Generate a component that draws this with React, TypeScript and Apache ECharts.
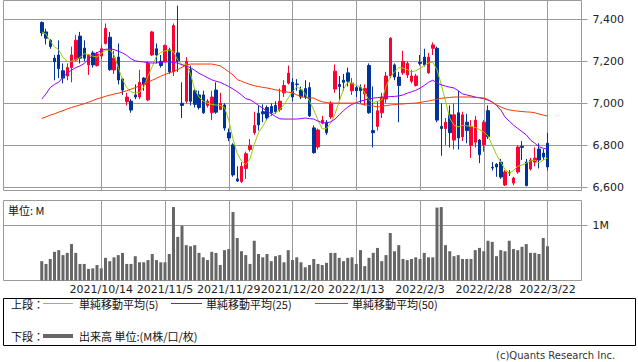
import React, { useEffect, useRef } from 'react';
import * as echarts from 'echarts';

// ---------- data ----------
const MONTH_DAYS: [string, number[]][] = [
  ['2021/9', [24, 27, 28, 29, 30]],
  ['2021/10', [1, 4, 5, 6, 7, 8, 11, 12, 13, 14, 15, 18, 19, 20, 21, 22, 25, 26, 27, 28, 29]],
  ['2021/11', [1, 2, 4, 5, 8, 9, 10, 11, 12, 15, 16, 17, 18, 19, 22, 24, 25, 26, 29, 30]],
  ['2021/12', [1, 2, 3, 6, 7, 8, 9, 10, 13, 14, 15, 16, 17, 20, 21, 22, 23, 24, 27, 28, 29, 30]],
  ['2022/1', [4, 5, 6, 7, 11, 12, 13, 14, 17, 18, 19, 20, 21, 24, 25, 26, 27, 28, 31]],
  ['2022/2', [1, 2, 3, 4, 7, 8, 9, 10, 14, 15, 16, 17, 18, 21, 22, 24, 25, 28]],
  ['2022/3', [1, 2, 3, 4, 7, 8, 9, 10, 11, 14, 15, 16, 17, 18, 22]],
];

const TICK_LABELS = ['2021/10/14', '2021/11/5', '2021/11/29', '2021/12/20', '2022/1/13', '2022/2/3', '2022/2/28', '2022/3/22'];
const PRICE_TICKS = [6600, 6800, 7000, 7200, 7400];
const VOLUME_TICKS = [1];

// [open, close, low, high]
const OHLC: number[][] = [
  [7385, 7335, 7320, 7390], [7340, 7310, 7280, 7355], [7300, 7270, 7260, 7305], [7215, 7198, 7110, 7230], [7230, 7165, 7120, 7300],
  [7155, 7120, 7095, 7190], [7130, 7170, 7110, 7190], [7170, 7230, 7100, 7270], [7206, 7300, 7200, 7325], [7320, 7215, 7190, 7340],
  [7263, 7215, 7200, 7300], [7183, 7230, 7135, 7235], [7240, 7183, 7170, 7250], [7180, 7235, 7175, 7245], [7225, 7260, 7210, 7280],
  [7285, 7357, 7280, 7380], [7315, 7160, 7155, 7340], [7159, 7215, 7140, 7250], [7220, 7111, 7090, 7285], [7116, 7063, 7040, 7120],
  [7008, 7030, 6990, 7050], [7010, 6968, 6955, 7020], [7040, 7030, 7020, 7090], [7030, 7100, 7020, 7160], [7120, 7090, 7060, 7125],
  [7016, 7190, 7010, 7200], [7230, 7340, 7225, 7345], [7260, 7230, 7190, 7285], [7200, 7180, 7170, 7230], [7200, 7275, 7195, 7280],
  [7255, 7150, 7140, 7265], [7150, 7370, 7130, 7380], [7240, 7200, 7150, 7465], [7000, 6990, 6930, 7100], [7010, 7200, 7000, 7220],
  [7160, 7010, 6990, 7180], [7060, 6995, 6980, 7070], [7040, 6980, 6970, 7060], [7040, 6955, 6950, 7060], [6990, 7010, 6980, 7020],
  [6955, 7030, 6920, 7060], [7063, 6958, 6950, 7100], [6970, 7000, 6968, 7050], [6992, 6882, 6870, 7000], [6860, 6835, 6820, 6880],
  [6802, 6659, 6650, 6810], [6640, 6630, 6625, 6700], [6628, 6700, 6620, 6720], [6690, 6760, 6640, 6770], [6780, 6800, 6770, 6830],
  [6860, 6895, 6850, 6960], [6953, 6897, 6870, 6990], [6960, 6950, 6910, 6995], [6980, 6930, 6920, 6990], [6985, 6955, 6940, 7000],
  [6990, 6960, 6950, 7010], [6970, 7010, 6960, 7070], [7050, 7085, 7030, 7110], [7096, 7144, 7090, 7180], [7100, 7030, 7010, 7120],
  [7092, 7090, 7060, 7115], [7063, 7030, 7020, 7080], [7070, 7030, 7020, 7110], [7075, 6940, 6935, 7100], [6883, 6765, 6760, 6895],
  [6792, 6873, 6780, 6880], [6905, 6920, 6900, 6940], [6910, 6860, 6850, 6920], [6935, 7000, 6925, 7010], [7068, 7153, 7050, 7185],
  [7090, 7080, 7010, 7130], [7110, 7100, 7060, 7140], [7145, 7105, 7080, 7170], [7060, 7096, 7040, 7120], [7075, 7060, 7030, 7085],
  [7075, 7060, 7000, 7090], [7045, 7070, 6990, 7090], [7180, 6955, 6950, 7190], [6870, 6860, 6790, 7080], [6890, 6965, 6870, 7010],
  [6955, 7030, 6930, 7050], [7020, 7130, 7000, 7150], [7130, 7310, 7120, 7315], [7183, 7125, 7110, 7190], [7125, 7085, 6910, 7150],
  [7145, 7200, 7135, 7250], [7135, 7190, 7120, 7200], [7105, 7130, 7095, 7160], [7085, 7130, 7080, 7140], [7195, 7190, 7180, 7230],
  [7220, 7183, 7175, 7260], [7145, 7220, 7140, 7240], [7262, 7278, 7230, 7290], [7262, 6920, 6910, 7270], [6890, 6880, 6750, 7000],
  [6880, 6910, 6800, 6930], [6945, 6860, 6790, 6990], [6825, 6945, 6780, 7000], [6955, 6835, 6780, 7060], [6840, 6945, 6820, 6960],
  [6910, 6870, 6810, 6950], [6800, 6890, 6740, 6920], [6815, 6920, 6790, 6940], [6825, 6755, 6715, 6830], [6802, 6910, 6770, 6920],
  [6965, 6841, 6830, 6990], [6695, 6692, 6680, 6720], [6710, 6697, 6650, 6715], [6720, 6649, 6640, 6735], [6611, 6673, 6606, 6682],
  [6670, 6668, 6654, 6682], [6620, 6644, 6610, 6650], [6673, 6792, 6665, 6800], [6795, 6790, 6730, 6820], [6720, 6608, 6605, 6735],
  [6687, 6730, 6680, 6740], [6720, 6739, 6700, 6790], [6782, 6730, 6690, 6810], [6763, 6744, 6730, 6782], [6810, 6697, 6680, 6860],
];

const MA5 = [
  7340, 7330, 7295, 7270, 7254, 7218, 7200, 7200, 7208, 7218, 7237, 7232, 7225, 7220, 7238, 7252, 7255, 7230, 7170, 7112,
  7075, 7055, 7049, 7052, 7078, 7130, 7175, 7225, 7242, 7250, 7254, 7246, 7205, 7185, 7188, 7140, 7065, 7030, 7010, 7001,
  6994, 6992, 6990, 6980, 6920, 6830, 6760, 6725, 6708, 6735, 6805, 6860, 6890, 6925, 6945, 6955, 6970, 6995, 7025, 7055,
  7078, 7068, 7045, 7010, 6968, 6920, 6878, 6880, 6906, 6950, 7010, 7068, 7100, 7095, 7085, 7080, 7050, 7015, 7003, 7010,
  7016, 7080, 7125, 7150, 7170, 7168, 7160, 7150, 7155, 7166, 7180, 7192, 7196, 7160, 7090, 7010, 6930, 6895, 6888, 6895,
  6893, 6890, 6885, 6875, 6863, 6845, 6800, 6755, 6720, 6685, 6668, 6680, 6700, 6706, 6715, 6725, 6730, 6716, 6730, 6740,
];

const MA25 = [
  7020, 7045, 7075, 7090, 7101, 7125, 7143, 7158, 7170, 7178, 7190, 7210, 7230, 7240, 7252, 7257, 7259, 7256, 7248, 7240,
  7228, 7212, 7202, 7199, 7197, 7193, 7192, 7192, 7196, 7197, 7197, 7195, 7192, 7183, 7177, 7170, 7157, 7143, 7133, 7122,
  7112, 7105, 7100, 7090, 7080, 7068, 7055, 7040, 7022, 7017, 7005, 6990, 6977, 6962, 6950, 6937, 6926, 6925, 6925, 6925,
  6925, 6927, 6930, 6927, 6925, 6915, 6908, 6906, 6912, 6925, 6945, 6965, 6982, 6995, 7003, 7010, 7016, 7020, 7025, 7027,
  7029, 7030, 7032, 7033, 7035, 7040, 7048, 7055, 7062, 7072, 7085, 7100, 7110, 7097, 7088, 7082, 7077, 7073, 7060, 7045,
  7040, 7035, 7030, 7026, 7022, 7015, 7006, 6990, 6968, 6935, 6915, 6896, 6880, 6865, 6850, 6825, 6810, 6793, 6786, 6782,
];

const MA50 = [
  6928, 6935, 6944, 6950, 6958, 6965, 6973, 6980, 6986, 6992, 6998, 7005, 7013, 7021, 7027, 7033, 7039, 7044, 7048, 7054,
  7060, 7067, 7075, 7083, 7092, 7100, 7110, 7119, 7129, 7137, 7145, 7152, 7160, 7172, 7182, 7187, 7187, 7187, 7187, 7187,
  7187, 7183, 7178, 7165, 7150, 7135, 7113, 7105, 7097, 7090, 7084, 7080, 7076, 7073, 7069, 7064, 7061, 7056, 7053, 7050,
  7040, 7032, 7028, 7026, 7025, 7015, 7007, 7004, 7001, 7001, 7001, 7001, 7001, 7001, 7001, 6997, 6993, 6990, 6987, 6983,
  6985, 6989, 6992, 6994, 6996, 6997, 6999, 7000, 7001, 7004, 7008, 7011, 7015, 7019, 7024, 7026, 7028, 7030, 7030, 7030,
  7030, 7030, 7028, 7027, 7025, 7018, 7005, 6993, 6983, 6974, 6969, 6965, 6963, 6961, 6959, 6958, 6955, 6949, 6944, 6939,
];

// volume, millions
const VOLUME = [
  0.35, 0.30, 0.39, 0.52, 0.55, 0.46, 0.50, 0.66, 0.50, 0.30, 0.30, 0.21, 0.22, 0.28, 0.22, 0.41, 0.35, 0.42, 0.46, 0.50,
  0.30, 0.30, 0.44, 0.33, 0.33, 0.37, 0.48, 0.37, 0.33, 0.33, 0.48, 1.33, 0.79, 0.99, 0.64, 0.62, 0.64, 0.50, 0.42, 0.37,
  0.52, 0.50, 0.28, 0.55, 0.57, 1.24, 0.77, 0.53, 0.46, 0.30, 0.72, 0.48, 0.42, 0.48, 0.35, 0.44, 0.46, 0.33, 0.55, 0.37,
  0.42, 0.33, 0.24, 0.28, 0.39, 0.30, 0.28, 0.32, 0.50, 0.50, 0.41, 0.35, 0.41, 0.42, 0.30, 0.55, 0.26, 0.41, 0.50, 0.59,
  0.35, 0.46, 0.86, 0.53, 0.64, 0.39, 0.37, 0.39, 0.42, 0.39, 0.50, 0.42, 0.42, 1.32, 1.33, 0.64, 0.53, 0.44, 0.46, 0.39,
  0.39, 0.39, 0.55, 0.59, 0.53, 0.72, 0.70, 0.44, 0.55, 0.53, 0.72, 0.57, 0.55, 0.61, 0.66, 0.50, 0.50, 0.48, 0.77, 0.62,
];

// ---------- layout ----------
const PAD_BEFORE = 9;
const PAD_AFTER = 8;
const GRID_LEFT = 3.5;
const GRID_RIGHT = 56.5;

const DATES = MONTH_DAYS.flatMap(([m, ds]) => ds.map((d) => `${m}/${d}`));
const CATEGORIES = [
  ...Array.from({ length: PAD_BEFORE }, (_, i) => `pre${i}`),
  ...DATES,
  ...Array.from({ length: PAD_AFTER }, (_, i) => `post${i}`),
];
const padSeries = (arr: any[], empty: any) => [
  ...Array(PAD_BEFORE).fill(empty),
  ...arr,
  ...Array(PAD_AFTER).fill(empty),
];

const labelSet = new Set(TICK_LABELS);
const labelInterval = (_i: number, v: string) => labelSet.has(v);
const fmtComma = (v: number) => String(Math.round(v)).replace(/\B(?=(\d{3})+(?!\d))/g, ',');

const GRID_COLOR = '#9a9a9a';
const UP = '#ff0033';
const DOWN = '#003399';
const CJK = '"Noto Sans CJK JP", sans-serif';
const LATIN = '"DejaVu Sans", sans-serif';

function buildOption(): any {
  const xBase = {
    type: 'category',
    data: CATEGORIES,
    boundaryGap: false,
    axisLine: { show: false },
    axisTick: { show: false },
    splitLine: { show: true, interval: labelInterval, lineStyle: { color: GRID_COLOR, width: 1 } },
  };
  const textStyle = (x: number, y: number, text: string, font: string, fill = '#111') => ({
    type: 'text',
    x,
    y,
    style: { text, font, fill, align: 'left', verticalAlign: 'middle', textAlign: 'left', textVerticalAlign: 'middle' },
    silent: true,
  });
  const seg = (x1: number, x2: number, y: number, stroke: string, lineWidth = 1) => ({
    type: 'line',
    shape: { x1, y1: y, x2, y2: y },
    style: { stroke, lineWidth },
    silent: true,
  });

  return {
    animation: false,
    backgroundColor: '#ffffff',
    grid: [
      { left: GRID_LEFT, right: GRID_RIGHT, top: 0.5, height: 190, show: true, borderColor: GRID_COLOR, borderWidth: 1 },
      { left: GRID_LEFT, right: GRID_RIGHT, top: 200.5, height: 80, show: true, borderColor: GRID_COLOR, borderWidth: 1 },
    ],
    xAxis: [
      { ...xBase, gridIndex: 0, axisLabel: { show: false, interval: labelInterval } },
      {
        ...xBase,
        gridIndex: 1,
        axisLabel: {
          show: true,
          interval: labelInterval,
          margin: 3,
          fontSize: 11,
          fontFamily: LATIN,
          color: '#222',
          formatter: (v: string) => v,
        },
      },
    ],
    yAxis: [
      {
        type: 'value',
        gridIndex: 0,
        position: 'right',
        min: 6584.8,
        max: 7489.6,
        splitNumber: 5,
        axisLine: { show: false },
        axisTick: { show: true, length: 6, inside: false, customValues: PRICE_TICKS, lineStyle: { color: GRID_COLOR } },
        axisLabel: {
          customValues: PRICE_TICKS,
          margin: 11,
          fontSize: 11,
          fontFamily: LATIN,
          color: '#222',
          formatter: (v: number) => (PRICE_TICKS.includes(Math.round(v)) ? fmtComma(v) : ''),
        },
        splitLine: { show: true, lineStyle: { color: GRID_COLOR, width: 1 } },
      },
      {
        type: 'value',
        gridIndex: 1,
        position: 'right',
        min: 0,
        max: 1.449,
        splitNumber: 1,
        axisLine: { show: false },
        axisTick: { show: true, length: 6, inside: false, customValues: VOLUME_TICKS, lineStyle: { color: GRID_COLOR } },
        axisLabel: {
          customValues: VOLUME_TICKS,
          margin: 11,
          fontSize: 11,
          fontFamily: LATIN,
          color: '#222',
          formatter: (v: number) => (Math.abs(v - 1) < 1e-6 ? '1M' : ''),
        },
        splitLine: { show: true, lineStyle: { color: GRID_COLOR, width: 1 } },
      },
    ],
    series: [
      {
        type: 'candlestick',
        xAxisIndex: 0,
        yAxisIndex: 0,
        barWidth: 3,
        data: padSeries(OHLC, ['-', '-', '-', '-']),
        itemStyle: { color: UP, color0: DOWN, borderColor: UP, borderColor0: DOWN, borderWidth: 1 },
      },
      { type: 'line', xAxisIndex: 0, yAxisIndex: 0, data: padSeries(MA5, null), showSymbol: false, lineStyle: { color: '#99cc00', width: 1 }, itemStyle: { color: '#99cc00' } },
      { type: 'line', xAxisIndex: 0, yAxisIndex: 0, data: padSeries(MA25, null), showSymbol: false, lineStyle: { color: '#9900ff', width: 1 }, itemStyle: { color: '#9900ff' } },
      { type: 'line', xAxisIndex: 0, yAxisIndex: 0, data: padSeries(MA50, null), showSymbol: false, lineStyle: { color: '#ff3300', width: 1 }, itemStyle: { color: '#ff3300' } },
      {
        type: 'bar',
        xAxisIndex: 1,
        yAxisIndex: 1,
        barWidth: 3,
        data: padSeries(VOLUME, null),
        itemStyle: { color: '#666666' },
      },
    ],
    graphic: [
      textStyle(8, 210, '単位: M', `11px ${CJK}`),
      {
        type: 'rect',
        shape: { x: 3.5, y: 298.5, width: 632, height: 47 },
        style: { fill: 'none', stroke: '#000', lineWidth: 1 },
        silent: true,
      },
      textStyle(11, 303.5, '上段：', `11px ${CJK}`),
      seg(43, 73, 303.5, '#99cc00'),
      textStyle(79, 303.5, '単純移動平均(5)', `11px ${CJK}`),
      seg(171, 202, 303.5, '#9900ff'),
      textStyle(206, 303.5, '単純移動平均(25)', `11px ${CJK}`),
      seg(315, 348, 303.5, '#ff3300'),
      textStyle(352, 303.5, '単純移動平均(50)', `11px ${CJK}`),
      textStyle(11, 336, '下段：', `11px ${CJK}`),
      seg(43, 73, 336, '#666666', 4),
      textStyle(79, 336, '出来高 単位:(M株/口/枚)', `11px ${CJK}`),
      textStyle(496, 355, '(c)Quants Research Inc.', `10px ${LATIN}`, '#333'),
    ],
  };
}

export default function App() {
  const ref = useRef<HTMLDivElement>(null);
  useEffect(() => {
    if (!ref.current) return;
    const chart = echarts.init(ref.current, null, { renderer: 'svg', width: 638, height: 362 });
    chart.setOption(buildOption());
    return () => chart.dispose();
  }, []);
  return (
    <div
      ref={ref}
      style={{ position: 'absolute', left: 0, top: 0, width: 638, height: 362, background: '#fff' }}
    />
  );
}
